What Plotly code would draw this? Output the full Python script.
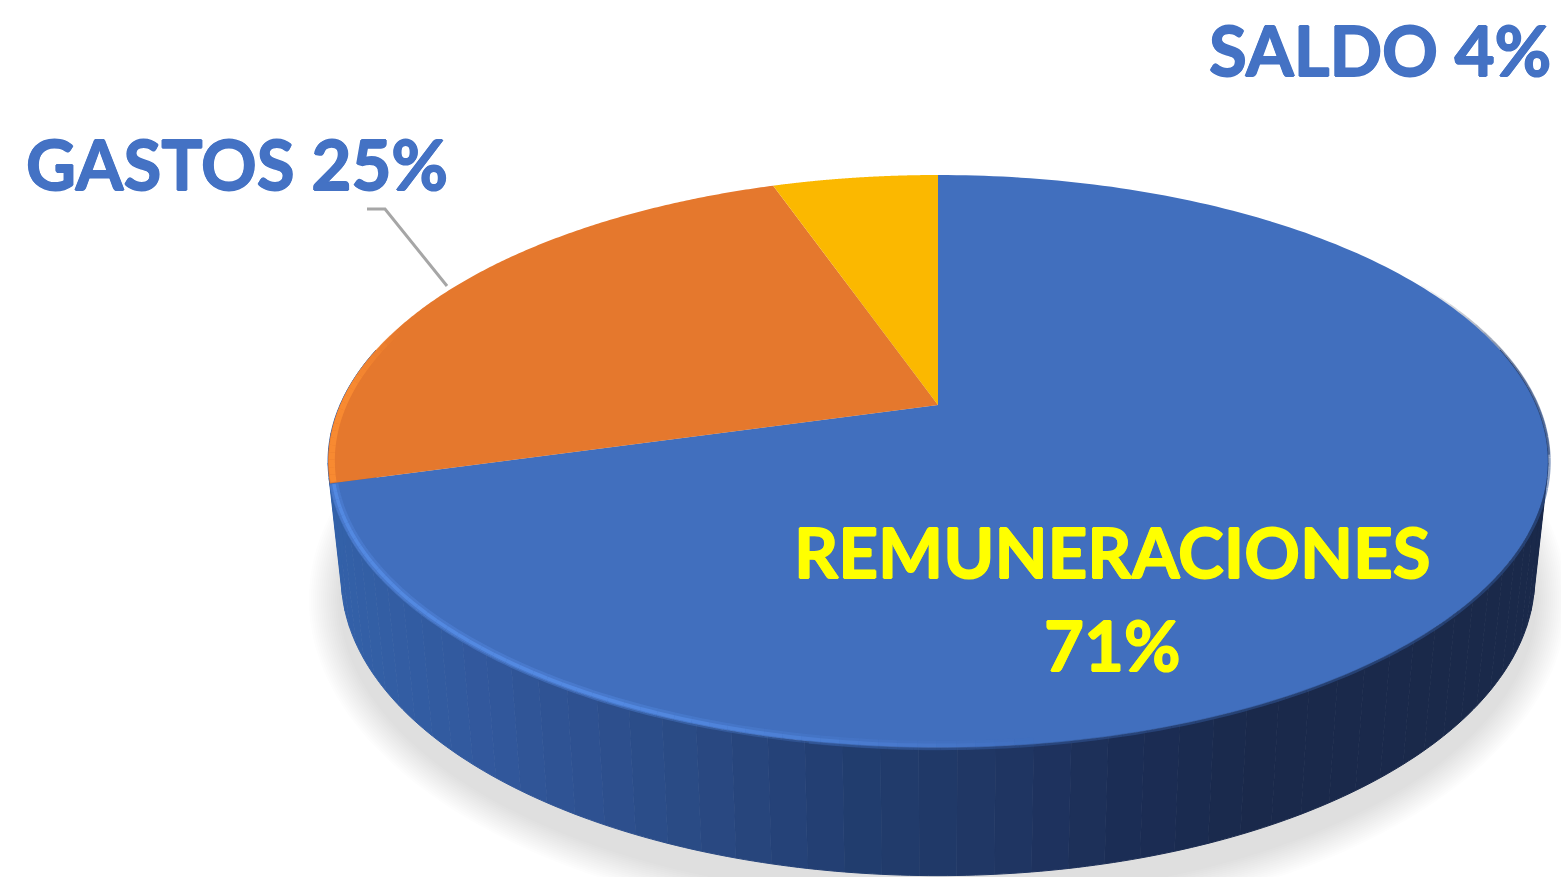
import numpy as np
import plotly.graph_objects as go

# --- data ---
categories = ["REMUNERACIONES", "GASTOS", "SALDO"]
shown_percent = [71, 25, 4]          # percentages printed on the labels
slice_share = [70.65, 24.05, 5.3]    # angular share of each slice as drawn
slice_colors = ["#416FBE", "#E5782D", "#FBB800"]
text_colors = ["#FFFF00", "#4472C4", "#4472C4"]

W, H = 1561, 877
# perspective disc parameters (pixel scale of the axes)
CX = 938
TOP = dict(ay=405, a=598, b=275.3, k=0.197)
BASE = dict(ay=519, a=585, b=286.4, k=0.197)
WALL_X = [330, 500, 700, 850, 1000, 1120, 1250, 1560]
WALL_C = [(52, 98, 170), (50, 88, 156), (42, 74, 132), (34, 62, 112),
          (32, 54, 100), (28, 46, 86), (26, 42, 76), (26, 41, 74)]


def rim(theta_deg, p, r=1.0):
    t = np.radians(theta_deg)
    u, v = r * np.sin(t), -r * np.cos(t)
    d = 1 - p["k"] * v
    return CX + p["a"] * u / d, p["ay"] + p["b"] * v / d


def poly(x, y, color, line=0):
    return go.Scatter(x=list(x), y=list(y), mode="lines", fill="toself", fillcolor=color,
                      line=dict(color=color, width=line, simplify=False),
                      hoverinfo="skip", showlegend=False)


def stroke(x, y, color, width):
    return go.Scatter(x=list(x), y=list(y), mode="lines", hoverinfo="skip", showlegend=False,
                      line=dict(color=color, width=width, simplify=False))


fig = go.Figure()

# soft shadow under the disc
ang = np.linspace(0, 360, 361)
for i in range(16):
    g = 32 - 2 * i
    x, y = rim(ang, BASE)
    x = CX + (x - CX) * (1 + g / 590)
    y = y + 22 + (y - 578) * (g / 300)
    fig.add_trace(poly(x, y, "rgba(70,70,70,0.0125)"))

# side wall, a band at a time
edges = np.linspace(78, 282, 70)
for a0, a1 in zip(edges[:-1], edges[1:]):
    th = np.linspace(a0, a1, 5)
    xt, yt = rim(th, TOP)
    xb, yb = rim(th, BASE)
    xm = float(np.mean(xb))
    rgb = [np.interp(xm, WALL_X, [c[j] for c in WALL_C]) for j in range(3)]
    col = "rgb(%d,%d,%d)" % tuple(rgb)
    fig.add_trace(poly(np.r_[xt, xb[::-1]], np.r_[yt, yb[::-1]], col, 1))

# thin dark edge on the upper right of the disc, fading in
seg = np.linspace(60, 100, 24)
for a0, a1 in zip(seg[:-1], seg[1:]):
    x, y = rim(np.linspace(a0, a1, 3), TOP, 1.002)
    f = np.clip((a0 - 60) / 22, 0, 1)
    fig.add_trace(stroke(x, y, "rgba(26,42,76,%.3f)" % (0.6 * f), 2))

# top surface slices, clockwise from twelve o'clock
start = 0.0
total = sum(slice_share)
bounds = []
for share, col in zip(slice_share, slice_colors):
    end = start + share / total * 360
    th = np.linspace(start, end, 241)
    x, y = rim(th, TOP)
    fig.add_trace(poly(np.r_[CX, x, CX], np.r_[TOP["ay"], y, TOP["ay"]], col))
    bounds.append((start, end))
    start = end

# soft transition from surface to wall on the dark side
seg = np.linspace(70, 190, 60)
for a0, a1 in zip(seg[:-1], seg[1:]):
    x, y = rim(np.linspace(a0, a1, 3), TOP, 1.002)
    f = np.clip((a0 - 70) / 20, 0, 1)
    fig.add_trace(stroke(x, y, "rgba(50,85,150,%.3f)" % (0.55 * f), 3))

# bevel highlight on the front rim of the blue slice
b0 = bounds[0]
seg = np.linspace(b0[1] - 0.2, 165, 60)
for a0, a1 in zip(seg[:-1], seg[1:]):
    th = np.linspace(a0, a1, 3)
    mid = (a0 + a1) / 2
    f = np.clip((mid - 172) / 35, 0, 1)
    for r, w, alpha in ((0.994, 9, 0.40), (0.994, 3.5, 0.95)):
        x, y = rim(th, TOP, r)
        fig.add_trace(stroke(x, y, "rgba(84,138,226,%.3f)" % (alpha * f), w))

# bevel on the left of the orange slice
seg = np.linspace(bounds[1][0] + 0.2, 288, 24)
for a0, a1 in zip(seg[:-1], seg[1:]):
    th = np.linspace(a0, a1, 3)
    f = np.clip((288 - a1) / 14, 0, 1)
    x, y = rim(th, TOP, 0.994)
    fig.add_trace(stroke(x, y, "rgba(250,140,50,%.3f)" % (0.9 * f), 6))

# leader line of the GASTOS label
leader_x = [367, 385, 447]
leader_y = [209, 209, 286]
fig.add_trace(stroke(leader_x, leader_y, "#A6A6A6", 3))


def label(x, y, text, color):
    halo = f"0.8px 0 0 {color}, -0.8px 0 0 {color}, 0 0.6px 0 {color}, 0 -0.6px 0 {color}"
    fig.add_annotation(x=x, y=y, text=text, showarrow=False, xanchor="center", yanchor="middle",
                       font=dict(family="Lato", size=69, weight=700, color=color, shadow=halo))


label(1112, 551, categories[0], text_colors[0])
label(1112, 644, f"{shown_percent[0]}%", text_colors[0])
label(237, 163, f"{categories[1]} {shown_percent[1]}%", text_colors[1])
label(1380, 49, f"{categories[2]} {shown_percent[2]}%", text_colors[2])

fig.update_layout(width=W, height=H, margin=dict(l=0, r=0, t=0, b=0), autosize=False,
                  paper_bgcolor="white", plot_bgcolor="white", showlegend=False,
                  xaxis=dict(range=[0, W], visible=False, fixedrange=True),
                  yaxis=dict(range=[H, 0], visible=False, fixedrange=True))
fig.write_html("out.html", config={"displayModeBar": False},
               post_script="document.body.style.margin='0';")
